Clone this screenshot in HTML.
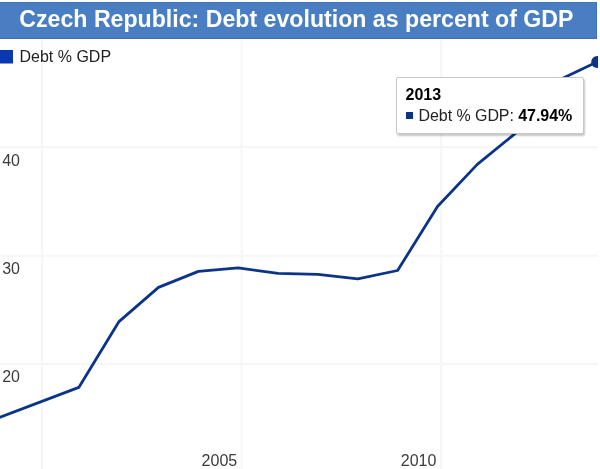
<!DOCTYPE html>
<html>
<head>
<meta charset="utf-8">
<title>Czech Republic: Debt evolution as percent of GDP</title>
<style>
html,body{margin:0;padding:0;background:#fff;}
body{width:600px;height:469px;overflow:hidden;position:relative;font-family:"Liberation Sans",Arial,sans-serif;}
#titlebar{position:absolute;left:0;top:2px;width:597px;height:36.5px;background:#4a7ec2;box-shadow:inset -1px -1px 0 #426fae, inset 0 1px 0 #4675b6;}
#title{position:absolute;left:19.3px;top:-0.6px;height:36px;line-height:36px;font-size:23.15px;font-weight:bold;color:#fff;white-space:nowrap;}
svg{position:absolute;left:0;top:0;}
.ax{font-size:16px;fill:#3c3c3c;}
.lg{font-size:16px;fill:#222;}
#tip{position:absolute;left:396px;top:77px;width:185.5px;height:55px;background:#fff;border:1px solid #c8c8c8;border-radius:2px;box-shadow:1px 2px 2px rgba(0,0,0,0.22);}
#tip .t1{position:absolute;left:8.5px;top:8px;font-size:16px;font-weight:bold;color:#000;line-height:17px;white-space:nowrap;}
#tip .sq{position:absolute;left:9px;top:33.5px;width:7px;height:7px;background:#0b3489;}
#tip .t2{position:absolute;left:21.5px;top:28.5px;font-size:16px;letter-spacing:-0.06px;color:#222;line-height:17px;white-space:nowrap;}
#tip .t2 b{color:#000;}
</style>
</head>
<body>
<svg width="600" height="469" viewBox="0 0 600 469">
  <defs><clipPath id="cp"><rect x="0" y="40" width="598" height="429"/></clipPath></defs>
  <g stroke="#f6f6f6" stroke-width="2" fill="none">
    <line x1="42" y1="40" x2="42" y2="469"/>
    <line x1="241.6" y1="40" x2="241.6" y2="469"/>
    <line x1="441.3" y1="40" x2="441.3" y2="469"/>
    <line x1="0" y1="147.3" x2="598" y2="147.3"/>
    <line x1="0" y1="255.7" x2="598" y2="255.7"/>
    <line x1="0" y1="364" x2="598" y2="364"/>
  </g>
  <rect x="0" y="50" width="13" height="13.5" fill="#0a38b0"/>
  <text class="lg" x="19.5" y="62">Debt % GDP</text>
  <text class="ax" x="2.2" y="165.6">40</text>
  <text class="ax" x="2.2" y="273.8">30</text>
  <text class="ax" x="2.2" y="381.8">20</text>
  <text class="ax" x="201.6" y="466">2005</text>
  <text class="ax" x="400.8" y="466">2010</text>
  <g clip-path="url(#cp)">
    <polyline fill="none" stroke="#0b3489" stroke-width="2.8" stroke-linejoin="round" stroke-linecap="round"
      points="-1,417.7 78.8,387.4 118.7,321.9 158.5,287.4 198.4,271.4 238.2,267.9 278.1,273.4 317.9,274.4 357.8,278.9 397.6,270.5 437.5,206.5 477.3,164.4 517.1,131.9 557.0,80.9 596.9,62.0"/>
    <circle cx="597.2" cy="62" r="6" fill="#0b3489"/>
  </g>
</svg>
<div id="titlebar"><div id="title">Czech Republic: Debt evolution as percent of GDP</div></div>
<div id="tip">
  <div class="t1">2013</div>
  <div class="sq"></div>
  <div class="t2">Debt % GDP: <b>47.94%</b></div>
</div>
</body>
</html>
